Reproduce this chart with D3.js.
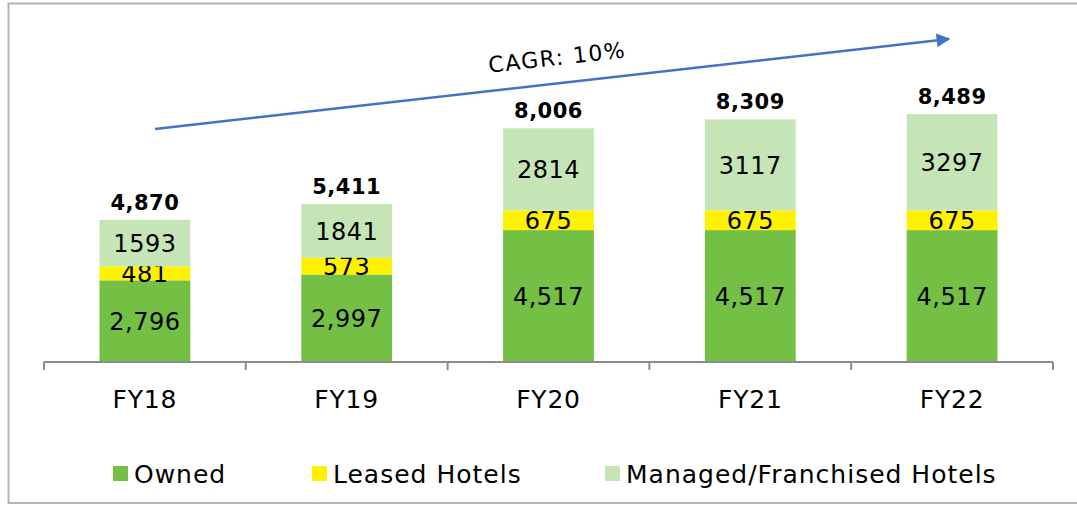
<!DOCTYPE html>
<html>
<head>
<meta charset="utf-8">
<script src="https://cdn.jsdelivr.net/npm/d3@7"></script>
<style>
  html, body { margin: 0; padding: 0; background: #ffffff; }
  svg { display: block; font-family: "DejaVu Sans", Verdana, sans-serif; }
</style>
</head>
<body>
<svg id="chart" width="1077" height="505"></svg>
<script>
// Hotel room inventory by fiscal year, stacked by ownership type
const years = ["FY18", "FY19", "FY20", "FY21", "FY22"];
const owned = [2796, 2997, 4517, 4517, 4517];
const leased = [481, 573, 675, 675, 675];
const managed = [1593, 1841, 2814, 3117, 3297];
const totals = [4870, 5411, 8006, 8309, 8489];
const seriesNames = ["Owned", "Leased Hotels", "Managed/Franchised Hotels"];
const seriesColors = ["#74c045", "#fff200", "#c6e5b6"];
const cagrLabel = "CAGR: 10%";

const svg = d3.select("#chart");

// outer frame
svg.append("rect")
  .attr("x", 8.5).attr("y", 3.5)
  .attr("width", 1080).attr("height", 499.5)
  .attr("fill", "none")
  .attr("stroke", "#b4b4b4")
  .attr("stroke-width", 2);

const axisLeft = 44, axisRight = 1053, baseY = 362;

const x = d3.scaleBand().domain(years).range([axisLeft, axisRight]).padding(0);
const y = d3.scaleLinear().domain([0, 10000]).range([baseY, 70]);
const barW = x.bandwidth() * 0.45;

const rows = years.map((yr, i) => ({
  year: yr,
  "Owned": owned[i],
  "Leased Hotels": leased[i],
  "Managed/Franchised Hotels": managed[i],
  total: totals[i]
}));

const stack = d3.stack().keys(seriesNames)(rows);

// stacked bars
const layers = svg.append("g").selectAll("g")
  .data(stack).join("g")
  .attr("fill", (d, i) => seriesColors[i]);

layers.selectAll("rect")
  .data(d => d)
  .join("rect")
  .attr("x", d => x(d.data.year) + (x.bandwidth() - barW) / 2)
  .attr("width", barW)
  .attr("y", d => y(d[1]))
  .attr("height", d => y(d[0]) - y(d[1]));

// segment value labels
const fmtComma = d3.format(",");
const fmtPlain = d3.format("d");
layers.each(function(layer, li) {
  d3.select(this).selectAll("text")
    .data(layer)
    .join("text")
    .attr("x", d => x(d.data.year) + x.bandwidth() / 2)
    .attr("y", d => (y(d[0]) + y(d[1])) / 2)
    .attr("dy", "0.37em")
    .attr("text-anchor", "middle")
    .attr("font-size", 24)
    .attr("letter-spacing", 0.5)
    .attr("fill", "#000")
    .text(d => li === 0 ? fmtComma(d[1] - d[0]) : fmtPlain(d[1] - d[0]));
});

// total labels
svg.append("g").selectAll("text")
  .data(rows).join("text")
  .attr("x", d => x(d.year) + x.bandwidth() / 2)
  .attr("y", d => y(d.total) - 10)
  .attr("text-anchor", "middle")
  .attr("font-size", 21)
  .attr("font-weight", "bold")
  .attr("letter-spacing", 0.5)
  .attr("fill", "#000")
  .text(d => fmtComma(d.total));

// category axis
const axisG = svg.append("g").attr("transform", `translate(0,${baseY})`);
axisG.append("line")
  .attr("x1", axisLeft).attr("x2", axisRight)
  .attr("stroke", "#8c8c8c").attr("stroke-width", 2);
const tickXs = years.map(yr => x(yr)).concat([axisRight]);
axisG.selectAll("line.tick")
  .data(tickXs).join("line")
  .attr("class", "tick")
  .attr("x1", d => d).attr("x2", d => d)
  .attr("y1", 0).attr("y2", 8)
  .attr("stroke", "#8c8c8c").attr("stroke-width", 2);
axisG.selectAll("text")
  .data(years).join("text")
  .attr("x", d => x(d) + x.bandwidth() / 2)
  .attr("y", 46)
  .attr("text-anchor", "middle")
  .attr("font-size", 25)
  .attr("letter-spacing", 0.8)
  .attr("fill", "#000")
  .text(d => d);

// growth arrow
const defs = svg.append("defs");
defs.append("marker")
  .attr("id", "arrowHead")
  .attr("viewBox", "0 0 10 10")
  .attr("refX", 9).attr("refY", 5)
  .attr("markerWidth", 6.5).attr("markerHeight", 5.5)
  .attr("markerUnits", "strokeWidth")
  .attr("orient", "auto")
  .append("path")
  .attr("d", "M0,0 L10,5 L0,10 Z")
  .attr("fill", "#4472c4");

svg.append("line")
  .attr("x1", 155).attr("y1", 129)
  .attr("x2", 949).attr("y2", 39)
  .attr("stroke", "#4472c4")
  .attr("stroke-width", 2.5)
  .attr("marker-end", "url(#arrowHead)");

svg.append("text")
  .attr("transform", "translate(558,65) rotate(-6.5)")
  .attr("text-anchor", "middle")
  .attr("font-size", 22)
  .attr("letter-spacing", 1.5)
  .attr("fill", "#000")
  .text(cagrLabel);

// legend
const legendItems = [
  { name: seriesNames[0], color: seriesColors[0], x: 113 },
  { name: seriesNames[1], color: seriesColors[1], x: 312 },
  { name: seriesNames[2], color: seriesColors[2], x: 605 }
];
const lg = svg.append("g").selectAll("g")
  .data(legendItems).join("g")
  .attr("transform", d => `translate(${d.x},466)`);
lg.append("rect")
  .attr("width", 15).attr("height", 15)
  .attr("fill", d => d.color);
lg.append("text")
  .attr("x", 21).attr("y", 17)
  .attr("font-size", 25)
  .attr("letter-spacing", 1)
  .attr("fill", "#000")
  .text(d => d.name);
</script>
</body>
</html>
